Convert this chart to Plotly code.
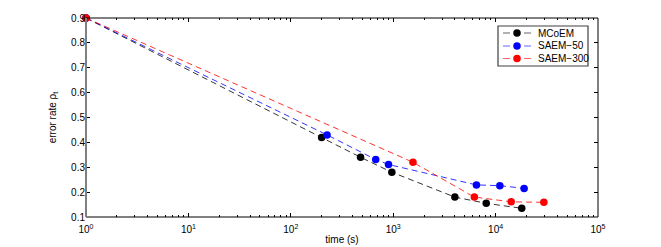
import plotly.graph_objects as go

# Data
mcoem_t = [1, 200, 480, 970, 4000, 8100, 18000]
mcoem_err = [0.9, 0.42, 0.34, 0.28, 0.18, 0.155, 0.135]

saem50_t = [1, 226, 675, 900, 6500, 11000, 19000]
saem50_err = [0.9, 0.43, 0.331, 0.311, 0.229, 0.226, 0.215]

saem300_t = [1, 1560, 6200, 14200, 29600]
saem300_err = [0.9, 0.32, 0.18, 0.161, 0.159]

series_names = ["MCoEM", "SAEM\u221250", "SAEM\u2212300"]
series_colors = ["#000000", "#0000ff", "#ff0000"]

x_tickvals = [1, 10, 100, 1000, 10000, 100000]
x_ticktext = ["10<sup>0</sup>", "10<sup>1</sup>", "10<sup>2</sup>", "10<sup>3</sup>",
              "10<sup>4</sup>", "10<sup>5</sup>"]
y_tickvals = [0.1, 0.2, 0.3, 0.4, 0.5, 0.6, 0.7, 0.8, 0.9]

minor_x = [m * 10 ** e for e in range(0, 5) for m in range(2, 10)]

# Layout geometry (the page body adds an 8px margin)
W, H = 653, 239
ML, MR, MT, MB = 78, 63, 10, 30
PW, PH = W - ML - MR, H - MT - MB


def px(xp):  # page pixel -> paper x
    return (xp - 8 - ML) / PW


def py(yp):  # page pixel -> paper y
    return 1 - (yp - 8 - MT) / PH


fig = go.Figure()
for xs, ys, name, col in zip([mcoem_t, saem50_t, saem300_t],
                             [mcoem_err, saem50_err, saem300_err],
                             series_names, series_colors):
    fig.add_trace(go.Scatter(
        x=xs, y=ys, name=name, mode="lines+markers", cliponaxis=False,
        line=dict(color=col, width=0.8, dash="6px,4px"),
        marker=dict(color=col, size=7.5, line=dict(width=0)),
        showlegend=False,
    ))

font = "Liberation Sans, Arial, Helvetica, sans-serif"

shapes = [
    dict(type="rect", xref="paper", yref="paper", x0=0, y0=0, x1=1, y1=1,
         line=dict(color="black", width=1), layer="above"),
    dict(type="line", xref="paper", yref="paper", x0=0, y0=0, x1=0, y1=1,
         line=dict(color="#808080", width=2), layer="above"),
    # legend box
    dict(type="rect", xref="paper", yref="paper",
         x0=px(498), x1=px(588), y0=py(66), y1=py(26),
         fillcolor="white", line=dict(color="#404040", width=1.2), layer="above"),
]
annotations = []
row_y = [33, 46, 58.5]
for yy, name, col in zip(row_y, series_names, series_colors):
    for a, b in [(503, 510), (524, 531)]:
        shapes.append(dict(type="line", xref="paper", yref="paper",
                           x0=px(a), x1=px(b), y0=py(yy), y1=py(yy),
                           line=dict(color=col, width=1), opacity=0.6, layer="above"))
    shapes.append(dict(type="circle", xref="paper", yref="paper",
                       xsizemode="pixel", ysizemode="pixel",
                       xanchor=px(517), yanchor=py(yy),
                       x0=-3.75, x1=3.75, y0=-3.75, y1=3.75,
                       fillcolor=col, line=dict(width=0), layer="above"))
    annotations.append(dict(xref="paper", yref="paper", x=px(536), y=py(yy),
                            xanchor="left", yanchor="middle", showarrow=False,
                            text=name, font=dict(size=10, color="black")))

fig.update_layout(
    width=W, height=H,
    margin=dict(l=ML, r=MR, t=MT, b=MB, autoexpand=False),
    paper_bgcolor="white", plot_bgcolor="white",
    font=dict(family=font, size=10, color="#000000"),
    showlegend=False,
    xaxis=dict(
        type="log", range=[0, 5], automargin=False,
        tickmode="array", tickvals=x_tickvals, ticktext=x_ticktext,
        ticks="inside", ticklen=4, tickcolor="black", tickwidth=1,
        showgrid=False, zeroline=False, showline=False, mirror="ticks",
        ticklabelstandoff=5,
        minor=dict(tickmode="array", tickvals=minor_x, ticks="inside",
                   ticklen=2, tickcolor="black", tickwidth=1, showgrid=False),
        title=dict(text="time (s)", standoff=1, font=dict(size=10)),
        tickfont=dict(size=10),
    ),
    yaxis=dict(
        range=[0.1, 0.9], automargin=False,
        tickmode="array", tickvals=y_tickvals,
        ticktext=[f"{v:.1f}" for v in y_tickvals],
        ticks="inside", ticklen=4, tickcolor="black", tickwidth=1,
        showgrid=False, zeroline=False, showline=False, mirror="ticks",
        ticklabelstandoff=0,
        title=dict(text="error rate \u03c1<sub>t</sub>", standoff=12, font=dict(size=10)),
        tickfont=dict(size=10),
    ),
    shapes=shapes,
    annotations=annotations,
)

fig.write_html("out.html")
